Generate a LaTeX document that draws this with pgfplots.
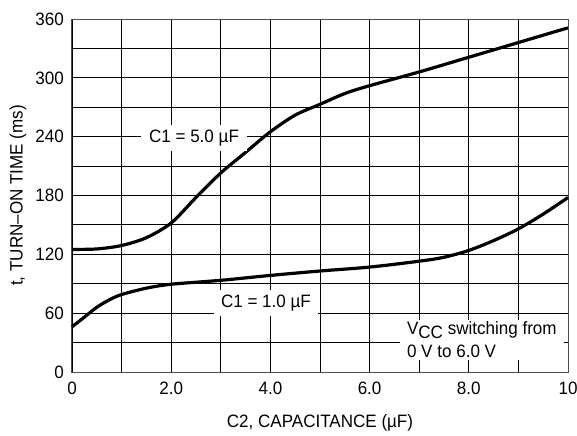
\documentclass[border=0pt]{standalone}
\usepackage{fontspec}
\setmainfont{Liberation Sans}[FakeStretch=0.95]
\usepackage{pgfplots}
\pgfplotsset{compat=1.18}
\begin{document}
\fontsize{18}{23}\selectfont
\begin{tikzpicture}[font=\fontsize{18}{23}\selectfont]
\path[use as bounding box] (-72bp,-64bp) rectangle (505bp,372bp);
\begin{axis}[
  at={(0,0)}, anchor=south west,
  scale only axis, width=496bp, height=353bp,
  xmin=0, xmax=10, ymin=0, ymax=360,
  xtick={0,2,4,6,8,10}, xticklabels={0,2.0,4.0,6.0,8.0,10},
  minor xtick={1,3,5,7,9},
  ytick={0,60,120,180,240,300,360},
  minor ytick={30,90,150,210,270,330},
  grid=both,
  major grid style={black, line width=0.9bp},
  minor grid style={black, line width=0.9bp},
  axis line style={black!70, line width=1bp},
  major tick length=0pt, minor tick length=0pt,
  /pgf/number format/assume math mode=true,
  tick label style={font=\fontsize{18}{22}\selectfont},
  xticklabel style={yshift=-4bp},
  yticklabel style={xshift=-2bp},
  xlabel={C2, CAPACITANCE (µF)},
  ylabel={t, TURN–ON TIME (ms)},
  label style={font=\fontsize{18}{22}\selectfont},
  x label style={at={(axis description cs:0.5,-0.145)}, anchor=center},
  y label style={at={(axis description cs:-0.109,0.5)}, anchor=center},
  clip=false,
]
\addplot[black, line width=3.2bp, smooth] coordinates {
(0,125) (0.5,125.5) (1,129) (1.5,137) (2,152) (2.5,178) (3,203) (3.5,224) (4,245) (4.5,262) (5,273) (5.5,284) (6,292) (7,306) (8,321) (9,336) (10,351)
};
\addplot[black, line width=3.2bp, smooth] coordinates {
(0,46) (0.25,56) (0.5,66) (0.75,73.5) (1,79) (1.5,85.5) (2,89.5) (3,93.5) (4,98.5) (5,103) (6,107) (7,113) (7.5,117) (8,124) (8.5,134) (9,146) (9.5,161) (10,178)
};
\node[fill=white, inner xsep=8bp, inner ysep=5bp] at (axis cs:2.46,239) {C1 = 5.0 µF};
\node[fill=white, inner xsep=7bp, inner ysep=5bp] at (axis cs:3.91,70) {C1 = 1.0 µF};
\node[fill=white, align=left, anchor=west, inner xsep=7bp, inner ysep=2bp] at (axis cs:6.61,32.6)
  {V\raisebox{-0.4ex}{CC} switching from\\0 V to 6.0 V};
\end{axis}
\end{tikzpicture}
\end{document}
